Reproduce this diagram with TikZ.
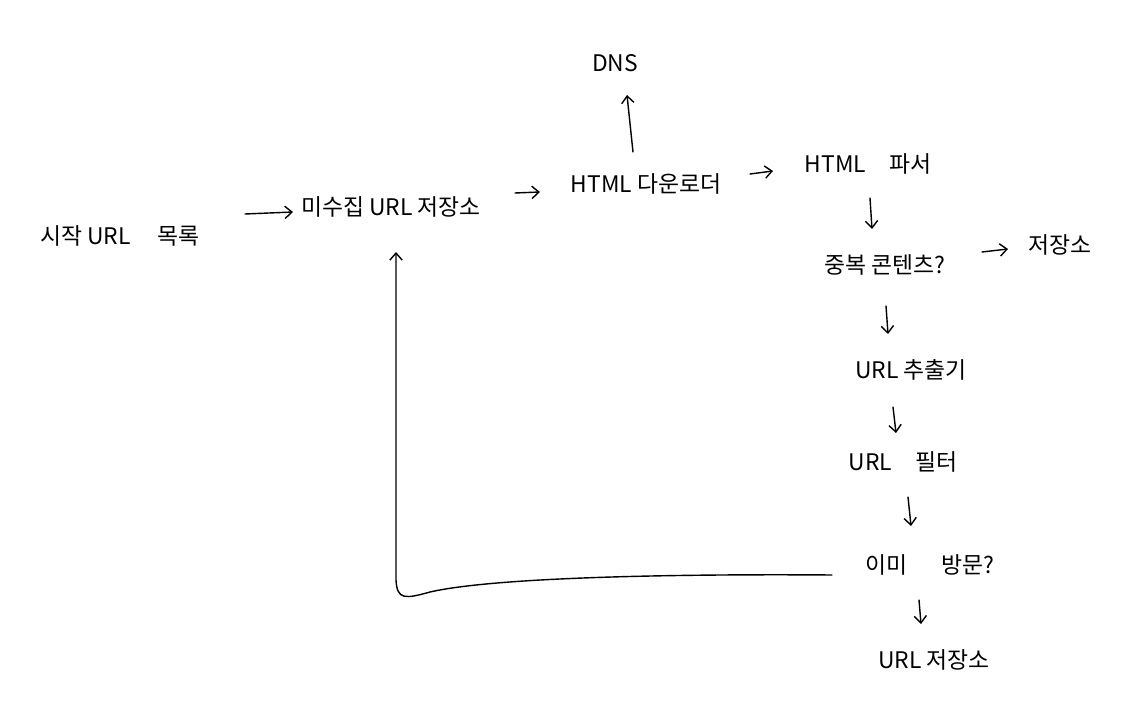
\documentclass[tikz,border=0pt]{standalone}
\usepackage{fontspec}
\setmainfont{Noto Sans CJK KR}
\usetikzlibrary{arrows.meta}
\begin{document}
\begin{tikzpicture}[x=0.02cm,y=-0.02cm,
  lbl/.style={inner sep=1pt,font=\fontsize{13}{15}\selectfont},
  arr/.style={line width=0.8pt,-{Straight Barb[length=4pt,width=7pt]},line cap=round},
  ln/.style={line width=0.8pt,line cap=round,line join=round}]
\useasboundingbox (0,0) rectangle (1136,702);
\node[lbl] (start) at (120,236) {시작 URL\hspace{1.2em}목록};
\node[lbl] (front) at (391,207) {미수집 URL 저장소};
\node[lbl] (dl) at (646,184) {HTML 다운로더};
\node[lbl] (dns) at (615,63) {DNS};
\node[lbl] (parser) at (868,164) {HTML\hspace{1em}파서};
\node[lbl] (dup) at (885,265) {중복 콘텐츠?};
\node[lbl] (store) at (1060,245) {저장소};
\node[lbl] (ext) at (911,370) {URL 추출기};
\node[lbl] (filt) at (903,462) {URL\hspace{1em}필터};
\node[lbl] (seen) at (930,565) {이미\hspace{1.5em}방문?};
\node[lbl] (ustore) at (934,660) {URL 저장소};
\coordinate (a1s) at (245,214); \coordinate (a1e) at (293,212);
\draw[arr] (a1s) -- (a1e);
\coordinate (a2s) at (515,193); \coordinate (a2e) at (540,192);
\draw[arr] (a2s) -- (a2e);
\coordinate (a3s) at (633,152); \coordinate (a3e) at (627,95);
\draw[arr] (a3s) -- (a3e);
\coordinate (a4s) at (750,174); \coordinate (a4e) at (773,171);
\draw[arr] (a4s) -- (a4e);
\coordinate (a5s) at (870,198); \coordinate (a5e) at (872,229);
\draw[arr] (a5s) -- (a5e);
\coordinate (a6s) at (982,252); \coordinate (a6e) at (1008,249);
\draw[arr] (a6s) -- (a6e);
\coordinate (a7s) at (886,306); \coordinate (a7e) at (888,334);
\draw[arr] (a7s) -- (a7e);
\coordinate (a8s) at (893,407); \coordinate (a8e) at (896,433);
\draw[arr] (a8s) -- (a8e);
\coordinate (a9s) at (908,497); \coordinate (a9e) at (911,526);
\draw[arr] (a9s) -- (a9e);
\coordinate (a10s) at (919,600); \coordinate (a10e) at (921,624);
\draw[arr] (a10s) -- (a10e);
\coordinate (fbs) at (832,575);
\coordinate (fbe) at (396,252);
\draw[arr] (fbs) .. controls (700,574) and (500,576) .. (430,592)
  .. controls (405,599) and (397,600) .. (396,580) -- (fbe);
\end{tikzpicture}
\end{document}
